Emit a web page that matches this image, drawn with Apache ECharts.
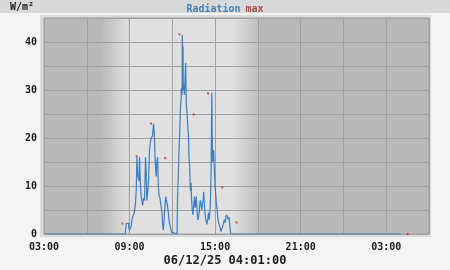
<!DOCTYPE html>
<html>
<head>
<meta charset="utf-8">
<script src="https://cdn.jsdelivr.net/npm/echarts@6/dist/echarts.min.js"></script>
<style>
html,body{margin:0;padding:0;background:#f4f4f4;}
#chart{width:450px;height:270px;}
</style>
</head>
<body>
<div id="chart"></div>
<script>
// ---- data ----
const radTimes = [
 "06/11 03:00","06/11 08:42","06/11 08:46","06/11 08:56","06/11 09:00","06/11 09:06","06/11 09:12","06/11 09:20",
 "06/11 09:25","06/11 09:28","06/11 09:31","06/11 09:35","06/11 09:40","06/11 09:42","06/11 09:46","06/11 09:49",
 "06/11 09:55","06/11 09:59","06/11 10:03","06/11 10:07","06/11 10:10","06/11 10:13","06/11 10:17","06/11 10:20",
 "06/11 10:24","06/11 10:27","06/11 10:31","06/11 10:34","06/11 10:37","06/11 10:41","06/11 10:44","06/11 10:48",
 "06/11 10:52","06/11 10:55","06/11 10:58","06/11 11:01","06/11 11:04","06/11 11:08","06/11 11:12","06/11 11:17",
 "06/11 11:19","06/11 11:22","06/11 11:25","06/11 11:27","06/11 11:32","06/11 11:36","06/11 11:39","06/11 11:43",
 "06/11 11:47","06/11 11:52","06/11 11:56","06/11 12:00","06/11 12:20","06/11 12:22","06/11 12:25","06/11 12:28",
 "06/11 12:31","06/11 12:34","06/11 12:37","06/11 12:38","06/11 12:41","06/11 12:42","06/11 12:44","06/11 12:45",
 "06/11 12:46","06/11 12:48","06/11 12:51","06/11 12:54","06/11 12:56","06/11 12:59","06/11 13:02","06/11 13:05",
 "06/11 13:08","06/11 13:10","06/11 13:13","06/11 13:16","06/11 13:19","06/11 13:21","06/11 13:24","06/11 13:27",
 "06/11 13:30","06/11 13:33","06/11 13:36","06/11 13:38","06/11 13:41","06/11 13:44","06/11 13:47","06/11 13:50",
 "06/11 13:53","06/11 13:55","06/11 13:58","06/11 14:01","06/11 14:04","06/11 14:07","06/11 14:10","06/11 14:12",
 "06/11 14:15","06/11 14:18","06/11 14:21","06/11 14:23","06/11 14:26","06/11 14:29","06/11 14:32","06/11 14:35",
 "06/11 14:37","06/11 14:40","06/11 14:43","06/11 14:46","06/11 14:49","06/11 14:52","06/11 14:54","06/11 14:57",
 "06/11 15:00","06/11 15:03","06/11 15:06","06/11 15:09","06/11 15:11","06/11 15:14","06/11 15:17","06/11 15:20",
 "06/11 15:22","06/11 15:25","06/11 15:28","06/11 15:31","06/11 15:34","06/11 15:36","06/11 15:39","06/11 15:42",
 "06/11 15:45","06/11 15:48","06/11 15:51","06/11 15:53","06/11 15:56","06/11 15:59","06/11 16:02","06/11 16:05",
 "06/11 16:06","06/12 04:01"
];
const radValues = [
 0,0,2.2,1.5,0.8,1.5,3.5,4.4,
 6.4,9,16,12,11,16,10,7.8,
 6,7.5,7,16,13,7,9,11.2,
 17.5,19,20,19.6,20.5,23,21,15,
 12,15,16,10,8,7.5,6,4.4,
 2,0.8,2.5,4.5,7.8,8,6,4.5,
 2.5,1.5,0.4,0,0,7.8,12,17.5,
 21,26.5,28,30.4,29,41.5,36,39,
 30,31,29,28.6,35.6,27,25,22.4,
 20.3,16,14,9,10.6,7,5,4,
 6,7.8,5.5,6,7.8,5,2.9,3.5,
 4.5,6,7,6,5,6.5,7,8.8,
 6,4,2.9,2.5,2,3,4.4,3,
 2.9,6,12.7,29.4,15,17,17.5,13,
 10,8,6,5,3.5,2.5,2,1.5,
 1.2,0.5,0.8,1.5,2,2.5,3,2.3,
 3.5,4,4.4,3.8,3,3.5,1.5,0.5,
 0,0
];
const maxTimes = [
 "06/11 08:30","06/11 09:30","06/11 10:30","06/11 11:30","06/11 12:30","06/11 13:30","06/11 14:30","06/11 15:30",
 "06/11 16:30","06/12 04:30"
];
const maxValues = [2.2,16.2,23,15.8,41.6,24.9,29.3,9.7,2.4,0];
// twilight periods (dawn start, day start, day end, dusk end)
const twilight = ["06/11 07:00","06/11 08:55","06/11 16:15","06/11 18:20"];
const yTickLabels = [0,10,20,30,40];
const xTickLabels = ["03:00","09:00","15:00","21:00","03:00"];
const titleMain = "Radiation", titleMax = "max", unitText = "W/m²", stampText = "06/12/25 04:01:00";

// ---- helpers: hours since 06/11 03:00 ----
function toH(s){
  const [d,t] = s.split(" ");
  const day = parseInt(d.split("/")[1],10);
  const [hh,mm] = t.split(":").map(Number);
  return (day-11)*24 + hh + mm/60 - 3;
}
const FONT = "'DejaVu Sans Mono', monospace";
const DARK = '#b9b9b9', LIGHT = '#e0e0e0';
const tw = twilight.map(toH);
const shadeData = [[0,27,'dark'],[tw[0],tw[1],'rise'],[tw[1],tw[2],'day'],[tw[2],tw[3],'set']];

const chart = echarts.init(document.getElementById('chart'));
chart.setOption({
  animation:false,
  backgroundColor:'#f4f4f4',
  graphic:[
    {type:'rect', z:-10, shape:{x:0,y:0,width:450,height:13}, style:{fill:'#d9d9d9'}},
    {type:'rect', z:-10, shape:{x:40,y:15,width:391,height:222}, style:{fill:'#dadada'}},
    {type:'text', z:5, x:10, y:7, style:{text:unitText, font:'bold 10px '+FONT, fill:'#1a1a1a', textVerticalAlign:'middle'}},
    {type:'text', z:5, x:225, y:261, style:{text:stampText, font:'bold 12px '+FONT, fill:'#1a1a1a', textAlign:'center', textVerticalAlign:'middle'}}
  ],
  title:{
    text:'{a|'+titleMain+'} {b|'+titleMax+'}',
    left:'center', top:0, padding:[0,0,0,0],
    textStyle:{rich:{
      a:{fontFamily:FONT, fontWeight:'bold', fontSize:10, color:'#4682b4', lineHeight:13},
      b:{fontFamily:FONT, fontWeight:'bold', fontSize:10, color:'#b04848', lineHeight:13}
    }}
  },
  grid:{left:44, right:21, top:18, bottom:36, show:true, backgroundColor:'transparent', borderColor:'#a0a0a0', borderWidth:1},
  xAxis:{
    type:'value', min:0, max:27, interval:3,
    axisLine:{show:false}, axisTick:{show:false},
    splitLine:{show:true, lineStyle:{color:'#a0a0a0', width:1}},
    axisLabel:{
      margin:8, fontFamily:FONT, fontWeight:'bold', fontSize:10, color:'#1a1a1a',
      formatter:function(v){ return (v%6===0) ? xTickLabels[v/6] : ''; }
    }
  },
  yAxis:{
    type:'value', min:0, max:45, interval:5,
    axisLine:{show:false}, axisTick:{show:false},
    splitLine:{show:true, lineStyle:{color:'#a0a0a0', width:1}},
    axisLabel:{
      margin:7, fontFamily:FONT, fontWeight:'bold', fontSize:10, color:'#1a1a1a',
      formatter:function(v){ const i = yTickLabels.indexOf(v); return i>=0 ? String(yTickLabels[i]) : ''; }
    }
  },
  series:[
    {
      type:'custom', z:-1, silent:true, clip:true,
      encode:{x:[0,1]},
      data:shadeData,
      renderItem:function(params, api){
        const x0 = api.value(0), x1 = api.value(1);
        const kind = shadeData[params.dataIndex][2];
        const p0 = api.coord([x0,45]), p1 = api.coord([x1,0]);
        let fill;
        if(kind==='dark') fill = DARK;
        else if(kind==='day') fill = LIGHT;
        else if(kind==='rise') fill = new echarts.graphic.LinearGradient(0,0,1,0,[{offset:0,color:DARK},{offset:1,color:LIGHT}]);
        else fill = new echarts.graphic.LinearGradient(0,0,1,0,[{offset:0,color:LIGHT},{offset:1,color:DARK}]);
        return {type:'rect', shape:{x:p0[0], y:p0[1], width:p1[0]-p0[0], height:p1[1]-p0[1]}, style:{fill:fill}};
      }
    },
    {
      type:'scatter', z:2, silent:true,
      symbol:'rect', symbolSize:2,
      itemStyle:{color:'#c03030'},
      data:maxTimes.map((t,i)=>[toH(t), maxValues[i]])
    },
    {
      type:'line', z:3, silent:true, showSymbol:false, step:'end',
      lineStyle:{color:'#3b7fbf', width:1.2},
      data:radTimes.map((t,i)=>[toH(t), radValues[i]])
    }
  ]
});
</script>
</body>
</html>
